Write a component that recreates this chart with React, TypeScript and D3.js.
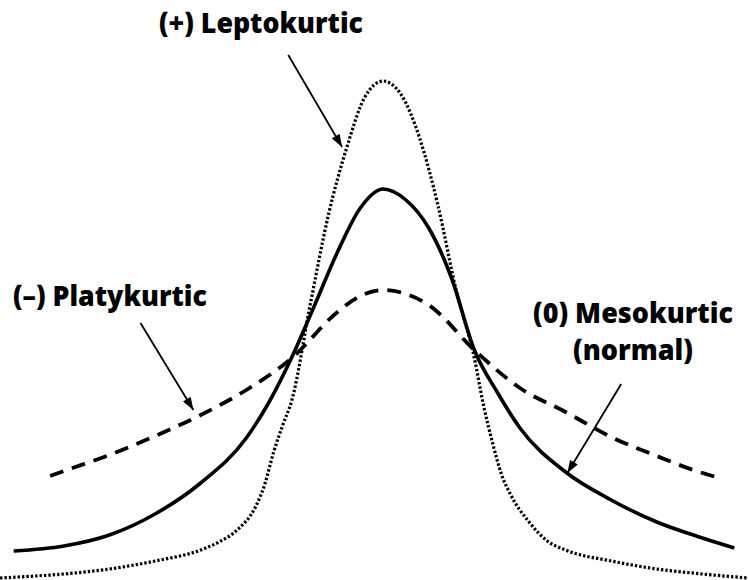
import React, { useEffect, useRef } from 'react';
import * as d3 from 'd3';

// curves: x in "spread" units, y in relative density
const mesoX = [-4.05, -3.5, -3, -2.5, -2, -1.5, -1.25, -1, -0.75, -0.5, -0.25, 0, 0.25, 0.5, 0.75, 1, 1.25, 1.5, 2, 2.5, 3, 3.5, 3.85];
const mesoY = [0.068, 0.078, 0.1, 0.142, 0.204, 0.294, 0.366, 0.456, 0.56, 0.666, 0.754, 0.792, 0.77, 0.714, 0.614, 0.47, 0.386, 0.314, 0.226, 0.17, 0.126, 0.094, 0.074];

const leptoX = [-4.2, -4, -3.5, -3, -2.5, -2, -1.8, -1.6, -1.4, -1.3, -1.2, -1.1, -1, -0.8, -0.6, -0.4, -0.2, 0, 0.2, 0.4, 0.6, 0.8, 1, 1.1, 1.2, 1.3, 1.4, 1.6, 1.8, 2, 2.5, 3, 3.5, 4];
const leptoY = [0.014, 0.016, 0.022, 0.032, 0.048, 0.07, 0.086, 0.11, 0.156, 0.2, 0.266, 0.32, 0.37, 0.56, 0.74, 0.874, 0.976, 1.008, 0.98, 0.894, 0.76, 0.59, 0.454, 0.36, 0.284, 0.22, 0.18, 0.126, 0.088, 0.07, 0.048, 0.032, 0.022, 0.014];

const platyX = [-3.65, -3.5, -3, -2.5, -2, -1.5, -1, -0.5, -0.25, 0, 0.25, 0.5, 1, 1.5, 2, 2.5, 3, 3.4, 3.65];
const platyY = [0.218, 0.228, 0.26, 0.298, 0.34, 0.39, 0.454, 0.546, 0.578, 0.59, 0.582, 0.56, 0.47, 0.394, 0.346, 0.296, 0.258, 0.23, 0.216];

const labels = ['(+) Leptokurtic', '(–) Platykurtic', '(0) Mesokurtic', '(normal)'];
// arrow [fromX, fromY, toX, toY] in data units
const arrows = [
  [-1.04, 1.06, -0.45, 0.876],
  [-2.66, 0.524, -2.08, 0.35],
  [2.61, 0.402, 2.02, 0.224],
];

const App = () => {
  const ref = useRef<SVGSVGElement>(null);

  useEffect(() => {
    const width = 748;
    const height = 580;
    const svg = d3.select(ref.current);
    svg.selectAll('*').remove();
    svg.attr('width', width).attr('height', height);

    const x = d3.scaleLinear().domain([-4.2, 4.0]).range([0, width]);
    const y = d3.scaleLinear().domain([0, 1]).range([585, 85]);

    const line = d3
      .line<[number, number]>()
      .x((d) => x(d[0]))
      .y((d) => y(d[1]))
      .curve(d3.curveMonotoneX);

    const zip = (a: number[], b: number[]) => a.map((v, i) => [v, b[i]] as [number, number]);

    svg.append('defs')
      .append('marker')
      .attr('id', 'head')
      .attr('viewBox', '0 0 14 10')
      .attr('refX', 14)
      .attr('refY', 5)
      .attr('markerWidth', 14)
      .attr('markerHeight', 9)
      .attr('markerUnits', 'userSpaceOnUse')
      .attr('orient', 'auto')
      .append('path')
      .attr('d', 'M0,0 L14,5 L0,10 Z')
      .attr('fill', '#000');

    svg.append('path')
      .attr('d', line(zip(platyX, platyY)))
      .attr('fill', 'none')
      .attr('stroke', '#000')
      .attr('stroke-width', 3.8)
      .attr('stroke-dasharray', '14,9');

    svg.append('path')
      .attr('d', line(zip(leptoX, leptoY)))
      .attr('fill', 'none')
      .attr('stroke', '#000')
      .attr('stroke-width', 3.2)
      .attr('stroke-dasharray', '2.4,2');

    svg.append('path')
      .attr('d', line(zip(mesoX, mesoY)))
      .attr('fill', 'none')
      .attr('stroke', '#000')
      .attr('stroke-width', 3.6);

    svg.selectAll('line.arrow')
      .data(arrows)
      .enter()
      .append('line')
      .attr('class', 'arrow')
      .attr('x1', (d) => x(d[0]))
      .attr('y1', (d) => y(d[1]))
      .attr('x2', (d) => x(d[2]))
      .attr('y2', (d) => y(d[3]))
      .attr('stroke', '#000')
      .attr('stroke-width', 1.8)
      .attr('marker-end', 'url(#head)');

    const pos = [
      [261, 33, 204],
      [110, 306, 194],
      [633, 323, 200],
      [633, 360, 120],
    ];
    svg.selectAll('text.lbl')
      .data(labels)
      .enter()
      .append('text')
      .attr('class', 'lbl')
      .attr('x', (d, i) => pos[i][0])
      .attr('y', (d, i) => pos[i][1])
      .attr('text-anchor', 'middle')
      .attr('textLength', (d, i) => pos[i][2])
      .attr('lengthAdjust', 'spacingAndGlyphs')
      .style('font-family', '"Open Sans", sans-serif')
      .style('font-weight', 800)
      .style('font-size', '28px')
      .text((d) => d);
  }, []);

  return (
    <div>
      <svg ref={ref} style={{ position: 'absolute', left: 0, top: 0, background: '#fff' }}></svg>
    </div>
  );
};

export default App;
